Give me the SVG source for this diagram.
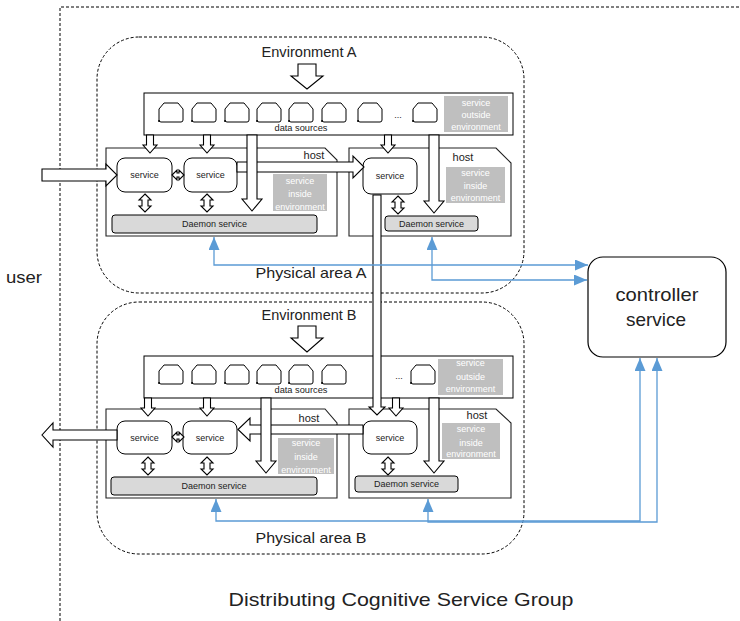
<svg xmlns="http://www.w3.org/2000/svg" xmlns:xlink="http://www.w3.org/1999/xlink" width="740" height="621" viewBox="0 0 740 621">
<style>
.dash{fill:none;stroke:#000;stroke-width:1;stroke-dasharray:3,2}
.box{fill:#fff;stroke:#000;stroke-width:1}
.host{fill:#fff;stroke:#222;stroke-width:1.1}
.svc{fill:#fff;stroke:#000;stroke-width:1}
.dmn{fill:#d9d9d9;stroke:#000;stroke-width:1}
.gray{fill:#bfbfbf}
.ha{fill:#fff;stroke:#000;stroke-width:1.1;stroke-linejoin:miter}
.blue{fill:none;stroke:#5b9bd5;stroke-width:1.3}
text{font-family:"Liberation Sans",Arial,sans-serif;fill:#222}
.big{font-size:15px}
.sm{font-size:9px;text-anchor:middle}
.hostt{font-size:11px;text-anchor:middle}
.gt{font-size:9px;fill:#fff;text-anchor:middle}
</style>
<defs>
<path id="ds" d="M0,19 V6 L5,0 H19 L24,6 V17 Q24,19 22,19 H2 Q0,19 0,17 Z" fill="#fff" stroke="#000" stroke-width="1"/>
<marker id="ah" viewBox="0 0 13 11" refX="13" refY="5.5" markerWidth="13" markerHeight="11" markerUnits="userSpaceOnUse" orient="auto-start-reverse">
<path d="M0,0 L13,5.5 L0,11 Z" fill="#5b9bd5"/>
</marker>
</defs>

<g id="group-boundary">
<path class="dash" d="M60,621 V7 H740"/>
<text x="401" y="606" style="font-size:19px" text-anchor="middle" textLength="345" lengthAdjust="spacingAndGlyphs">Distributing Cognitive Service Group</text>
</g>
<g id="user">
<text x="6" y="283" style="font-size:17px" textLength="36" lengthAdjust="spacingAndGlyphs">user</text>
</g>

<g id="area-a">
<rect class="dash" x="97" y="37" width="427" height="256" rx="42"/>
<text class="big" x="309" y="57" text-anchor="middle" textLength="95" lengthAdjust="spacingAndGlyphs">Environment A</text>
<text class="big" x="311" y="278" text-anchor="middle" textLength="111" lengthAdjust="spacingAndGlyphs">Physical area A</text>
</g>
<g id="area-b">
<rect class="dash" x="97" y="302" width="427" height="252" rx="42"/>
<text class="big" x="309" y="320" text-anchor="middle" textLength="95" lengthAdjust="spacingAndGlyphs">Environment B</text>
<text class="big" x="311" y="543" text-anchor="middle" textLength="111" lengthAdjust="spacingAndGlyphs">Physical area B</text>
</g>

<g id="datasources-a">
<rect class="box" x="144" y="93" width="369" height="42"/>
<use href="#ds" x="159" y="103"/><use href="#ds" x="192" y="103"/><use href="#ds" x="225" y="103"/><use href="#ds" x="257" y="103"/>
<use href="#ds" x="289" y="103"/><use href="#ds" x="322" y="103"/><use href="#ds" x="358" y="103"/><use href="#ds" x="413" y="103"/>
<text class="sm" x="398" y="118">...</text>
<text class="sm" x="301" y="131" textLength="53" lengthAdjust="spacingAndGlyphs">data sources</text>
<rect class="gray" x="444" y="96" width="64" height="36"/>
<text class="gt" x="476" y="106">service</text>
<text class="gt" x="476" y="118">outside</text>
<text class="gt" x="476" y="130">environment</text>
</g>
<g id="datasources-b">
<rect class="box" x="144" y="356" width="369" height="42"/>
<use href="#ds" x="159" y="365"/><use href="#ds" x="192" y="365"/><use href="#ds" x="225" y="365"/><use href="#ds" x="257" y="365"/>
<use href="#ds" x="289" y="365"/><use href="#ds" x="322" y="365"/><use href="#ds" x="411" y="365"/>
<text class="sm" x="399" y="379">...</text>
<text class="sm" x="301" y="393" textLength="53" lengthAdjust="spacingAndGlyphs">data sources</text>
<rect class="gray" x="438" y="359" width="65" height="36"/>
<text class="gt" x="470.5" y="366">service</text>
<text class="gt" x="470.5" y="380">outside</text>
<text class="gt" x="470.5" y="392">environment</text>
</g>

<g id="host-a1">
<path class="host" d="M106,148 H325 L337,160 V236 H106 Z"/>
<text class="hostt" x="314" y="159">host</text>
<rect class="gray" x="273" y="174" width="54" height="37"/>
<text class="gt" x="300" y="184">service</text>
<text class="gt" x="300" y="197">inside</text>
<text class="gt" x="300" y="210">environment</text>
</g>
<g id="host-a2">
<path class="host" d="M349,148 H496 L511,163 V236 H349 Z"/>
<text class="hostt" x="463" y="161">host</text>
<rect class="gray" x="446" y="167" width="59" height="36"/>
<text class="gt" x="475.5" y="176">service</text>
<text class="gt" x="475.5" y="189">inside</text>
<text class="gt" x="475.5" y="201">environment</text>
</g>
<g id="host-b1">
<path class="host" d="M106,409 H325 L337,423 V498 H106 Z"/>
<text class="hostt" x="309" y="422">host</text>
<rect class="gray" x="278" y="438" width="56" height="36"/>
<text class="gt" x="306" y="446">service</text>
<text class="gt" x="306" y="460">inside</text>
<text class="gt" x="306" y="473">environment</text>
</g>
<g id="host-b2">
<path class="host" d="M349,409 H496 L511,423 V498 H349 Z"/>
<text class="hostt" x="477" y="419">host</text>
<rect class="gray" x="442" y="423" width="58" height="36"/>
<text class="gt" x="471" y="432">service</text>
<text class="gt" x="471" y="446">inside</text>
<text class="gt" x="471" y="457">environment</text>
</g>

<g id="service-a1"><rect class="svc" x="117" y="158" width="55" height="34" rx="8"/><text class="sm" x="144.5" y="178">service</text></g>
<g id="service-a2"><rect class="svc" x="184" y="158" width="53" height="34" rx="8"/><text class="sm" x="210.5" y="178">service</text></g>
<g id="service-a3"><rect class="svc" x="363" y="158" width="54" height="36" rx="8"/><text class="sm" x="390" y="179">service</text></g>
<g id="daemon-a1"><rect class="dmn" x="112" y="215" width="205" height="18" rx="3"/><text class="sm" x="214.5" y="227">Daemon service</text></g>
<g id="daemon-a2"><rect class="dmn" x="385" y="216" width="93" height="15" rx="3"/><text class="sm" x="431.5" y="226.5">Daemon service</text></g>

<g id="service-b1"><rect class="svc" x="117" y="421" width="55" height="33" rx="8"/><text class="sm" x="144.5" y="440.5">service</text></g>
<g id="service-b2"><rect class="svc" x="183" y="421" width="54" height="33" rx="8"/><text class="sm" x="210" y="440.5">service</text></g>
<g id="service-b3"><rect class="svc" x="363" y="421" width="54" height="33" rx="8"/><text class="sm" x="390" y="440.5">service</text></g>
<g id="daemon-b1"><rect class="dmn" x="111" y="477" width="206" height="18" rx="3"/><text class="sm" x="214" y="489">Daemon service</text></g>
<g id="daemon-b2"><rect class="dmn" x="355" y="476" width="103" height="16" rx="3"/><text class="sm" x="406.5" y="487">Daemon service</text></g>

<g id="controller">
<rect x="588" y="257" width="138" height="100" rx="15" fill="#fff" stroke="#000" stroke-width="1.2"/>
<text x="657" y="301" style="font-size:19px" text-anchor="middle" textLength="83" lengthAdjust="spacingAndGlyphs">controller</text>
<text x="656" y="326" style="font-size:19px" text-anchor="middle" textLength="60" lengthAdjust="spacingAndGlyphs">service</text>
</g>

<g id="connectors">
<polygon class="ha" points="298,64 316,64 316,76 323,76 307,89 291,76 298,76"/>
<polygon class="ha" points="298,326 316,326 316,338 323,338 307,352 291,338 298,338"/>
<polygon class="ha" points="146.5,135 153.5,135 153.5,145 157,145 150,153 143,145 146.5,145"/>
<polygon class="ha" points="203.5,135 210.5,135 210.5,145 214,145 207,153 200,145 203.5,145"/>
<polygon class="ha" points="384.5,135 391.5,135 391.5,145 395,145 388,153 381,145 384.5,145"/>
<polygon class="ha" points="144.5,398 151.5,398 151.5,408 155,408 148,416 141,408 144.5,408"/>
<polygon class="ha" points="203.5,398 210.5,398 210.5,408 214,408 207,416 200,408 203.5,408"/>
<polygon class="ha" points="392.5,398 399.5,398 399.5,408 403,408 396,416 389,408 392.5,408"/>
<polygon class="ha" points="145,194 151,200 148,200 148,206 151,206 145,212 139,206 142,206 142,200 139,200"/>
<polygon class="ha" points="207,194 213,200 210,200 210,206 213,206 207,212 201,206 204,206 204,200 201,200"/>
<polygon class="ha" points="398,196 404,202 401,202 401,208 404,208 398,214 392,208 395,208 395,202 392,202"/>
<polygon class="ha" points="148,457 154,463 151,463 151,469 154,469 148,475 142,469 145,469 145,463 142,463"/>
<polygon class="ha" points="207,457 213,463 210,463 210,469 213,469 207,475 201,469 204,469 204,463 201,463"/>
<polygon class="ha" points="388,457 394,463 391,463 391,469 394,469 388,475 382,469 385,469 385,463 382,463"/>
<polygon class="ha" points="172,175 177,170 177,173 179,173 179,170 184,175 179,180 179,177 177,177 177,180"/>
<polygon class="ha" points="172,437 177,432 177,435 179,435 179,432 184,437 179,442 179,439 177,439 177,442"/>
<polygon class="ha" points="42,169 106,169 106,164 117,175 106,186 106,181 42,181"/>
<polygon class="ha" points="237,162 353,162 353,156 364,167 353,178 353,172 237,172"/>
<polygon class="ha" points="117,430 53,430 53,423 42,435 53,447 53,440 117,440"/>
<polygon class="ha" points="363,425 250,425 250,418 238,429.5 250,441 250,434 363,434"/>
<polygon class="ha" points="247,135 257,135 257,199 262,199 252,211 242,199 247,199"/>
<polygon class="ha" points="429,135 439,135 439,201 444,201 434,213 424,201 429,201"/>
<polygon class="ha" points="261,398 271,398 271,461 276,461 266,473 256,461 261,461"/>
<polygon class="ha" points="429,398 439,398 439,461 444,461 434,473 424,461 429,461"/>
<polygon class="ha" points="373,195 381,195 381,407 385,407 377,415 369,407 373,407"/>
<path class="blue" d="M214,237 V265 H588" marker-start="url(#ah)" marker-end="url(#ah)"/>
<path class="blue" d="M432,237 V280 H587" marker-start="url(#ah)" marker-end="url(#ah)"/>
<path class="blue" d="M216,499 V521 H640 V358" marker-start="url(#ah)" marker-end="url(#ah)"/>
<path class="blue" d="M428,499 V522 H657 V358" marker-start="url(#ah)" marker-end="url(#ah)"/>
</g>
</svg>
